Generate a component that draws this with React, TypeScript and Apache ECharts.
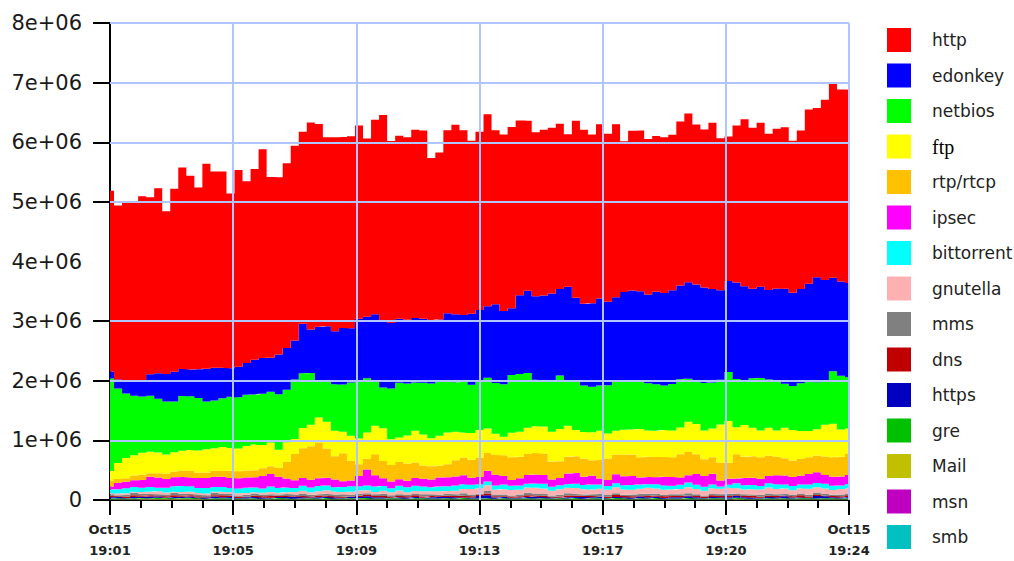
import React, { useEffect, useRef } from "react";
import * as echarts from "echarts";

// values in units of 1e6 (bits/s), one sample every ~15 s from 19:01 to 19:24
const M = 1e6;

const http = [
  3.03, 2.92, 3.0, 3.0, 3.08, 2.97, 3.1, 2.73, 3.07, 3.38,
  3.25, 3.05, 3.44, 3.29, 3.29, 2.93, 3.3, 3.05, 3.2, 3.5,
  3.03, 2.97, 3.1, 3.27, 3.22, 3.47, 3.4, 3.17, 3.25, 3.2,
  3.22, 3.24, 2.99, 3.26, 3.47, 3.05, 3.07, 3.06, 3.16, 3.16,
  2.72, 2.8, 3.07, 3.18, 3.1, 2.9, 2.99, 3.22, 2.92, 2.96,
  3.04, 2.93, 2.85, 2.75, 2.78, 2.78, 2.77, 2.56, 2.97, 2.92,
  2.83, 2.92, 2.82, 2.9, 2.53, 2.68, 2.7, 2.61, 2.61, 2.61,
  2.61, 2.75, 2.83, 2.68, 2.65, 2.79, 2.55, 2.42, 2.63, 2.8,
  2.7, 2.75, 2.62, 2.68, 2.71, 2.55, 2.66, 2.92, 2.84, 3.02,
  3.25, 3.22, 3.24,
];

const edonkey = [
  0.12, 0.15, 0.2, 0.26, 0.28, 0.36, 0.43, 0.46, 0.5, 0.45,
  0.45, 0.48, 0.55, 0.55, 0.51, 0.48, 0.51, 0.53, 0.58, 0.6,
  0.57, 0.67, 0.7, 0.65, 0.83, 0.73, 0.9, 0.91, 0.89, 0.95,
  0.91, 1.04, 1.03, 1.12, 1.1, 1.1, 1.07, 1.07, 1.08, 1.07,
  1.06, 1.04, 1.12, 1.14, 1.12, 1.19, 1.2, 1.2, 1.32, 1.23,
  1.12, 1.32, 1.38, 1.4, 1.42, 1.45, 1.45, 1.57, 1.38, 1.37,
  1.4, 1.46, 1.4, 1.41, 1.5, 1.52, 1.5, 1.49, 1.55, 1.55,
  1.57, 1.57, 1.62, 1.62, 1.6, 1.57, 1.5, 1.53, 1.62, 1.6,
  1.5, 1.53, 1.5, 1.54, 1.59, 1.56, 1.58, 1.63, 1.76, 1.68,
  1.57, 1.58, 1.58,
];

const netbios = [
  1.55, 1.25, 1.08, 1.0, 0.94, 0.94, 0.9, 0.89, 0.85, 0.92,
  0.9, 0.88, 0.8, 0.8, 0.82, 0.86, 0.86, 0.86, 0.84, 0.86,
  0.85, 0.93, 0.88, 1.0, 0.92, 0.87, 0.62, 0.69, 0.78, 0.79,
  0.89, 0.97, 0.91, 0.75, 0.68, 0.85, 0.92, 0.87, 0.81, 0.87,
  0.92, 0.91, 0.88, 0.83, 0.85, 0.81, 0.81, 0.85, 0.85, 0.88,
  0.97, 0.97, 0.92, 0.78, 0.78, 0.87, 0.9, 0.76, 0.84, 0.78,
  0.76, 0.76, 0.81, 0.83, 0.81, 0.81, 0.81, 0.79, 0.78, 0.75,
  0.78, 0.81, 0.72, 0.72, 0.8, 0.77, 0.75, 0.82, 0.81, 0.73,
  0.83, 0.88, 0.81, 0.84, 0.74, 0.74, 0.8, 0.84, 0.79, 0.75,
  0.88, 0.9, 0.86,
];

const ftp = [
  0.17, 0.27, 0.34, 0.34, 0.37, 0.36, 0.35, 0.32, 0.32, 0.33,
  0.35, 0.37, 0.39, 0.38, 0.4, 0.38, 0.38, 0.41, 0.43, 0.39,
  0.4, 0.3, 0.33, 0.25, 0.34, 0.36, 0.42, 0.45, 0.43, 0.36,
  0.42, 0.43, 0.44, 0.48, 0.55, 0.43, 0.41, 0.47, 0.53, 0.52,
  0.47, 0.5, 0.53, 0.48, 0.42, 0.45, 0.47, 0.41, 0.36, 0.31,
  0.41, 0.42, 0.44, 0.45, 0.45, 0.5, 0.54, 0.52, 0.44, 0.45,
  0.47, 0.49, 0.42, 0.4, 0.42, 0.42, 0.47, 0.44, 0.44, 0.45,
  0.45, 0.45, 0.51, 0.51, 0.48, 0.48, 0.64, 0.7, 0.45, 0.53,
  0.48, 0.45, 0.47, 0.44, 0.51, 0.51, 0.47, 0.44, 0.44, 0.53,
  0.56, 0.46, 0.42,
];

const rtpRtcp = [
  0.09, 0.06, 0.06, 0.08, 0.09, 0.06, 0.07, 0.09, 0.1, 0.11,
  0.11, 0.09, 0.09, 0.1, 0.1, 0.12, 0.12, 0.12, 0.12, 0.13,
  0.13, 0.15, 0.28, 0.44, 0.5, 0.56, 0.6, 0.49, 0.39, 0.47,
  0.33, 0.2, 0.18, 0.35, 0.29, 0.28, 0.29, 0.29, 0.26, 0.22,
  0.22, 0.2, 0.22, 0.27, 0.3, 0.3, 0.32, 0.3, 0.33, 0.35,
  0.38, 0.36, 0.35, 0.36, 0.36, 0.3, 0.28, 0.28, 0.28, 0.3,
  0.26, 0.31, 0.36, 0.33, 0.36, 0.36, 0.34, 0.34, 0.34, 0.33,
  0.33, 0.39, 0.39, 0.33, 0.28, 0.28, 0.3, 0.27, 0.41, 0.36,
  0.36, 0.36, 0.34, 0.31, 0.29, 0.28, 0.28, 0.28, 0.28, 0.31,
  0.33, 0.33, 0.36,
];

const ipsec = [
  0.05, 0.11, 0.11, 0.11, 0.13, 0.17, 0.17, 0.15, 0.15, 0.15,
  0.15, 0.17, 0.17, 0.17, 0.17, 0.17, 0.17, 0.17, 0.17, 0.21,
  0.21, 0.19, 0.15, 0.13, 0.13, 0.13, 0.13, 0.13, 0.13, 0.1,
  0.1, 0.17, 0.27, 0.19, 0.13, 0.11, 0.11, 0.11, 0.13, 0.13,
  0.13, 0.15, 0.15, 0.15, 0.15, 0.12, 0.12, 0.18, 0.18, 0.14,
  0.1, 0.12, 0.15, 0.15, 0.15, 0.12, 0.12, 0.18, 0.18, 0.14,
  0.15, 0.1, 0.1, 0.15, 0.15, 0.15, 0.12, 0.12, 0.12, 0.15,
  0.15, 0.12, 0.12, 0.18, 0.18, 0.18, 0.1, 0.1, 0.08, 0.12,
  0.12, 0.12, 0.12, 0.15, 0.15, 0.15, 0.15, 0.18, 0.18, 0.15,
  0.15, 0.15, 0.15,
];

const bittorrent = [
  0.06, 0.07, 0.08, 0.08, 0.07, 0.08, 0.06, 0.08, 0.09, 0.1,
  0.09, 0.08, 0.09, 0.08, 0.08, 0.07, 0.08, 0.09, 0.08, 0.07,
  0.09, 0.08, 0.08, 0.07, 0.08, 0.08, 0.09, 0.08, 0.07, 0.08,
  0.09, 0.07, 0.08, 0.09, 0.08, 0.07, 0.08, 0.08, 0.09, 0.08,
  0.07, 0.08, 0.08, 0.09, 0.08, 0.07, 0.07, 0.06, 0.07, 0.08,
  0.07, 0.07, 0.06, 0.07, 0.08, 0.07, 0.07, 0.06, 0.07, 0.07,
  0.08, 0.07, 0.06, 0.07, 0.07, 0.08, 0.07, 0.06, 0.07, 0.07,
  0.06, 0.07, 0.08, 0.07, 0.07, 0.06, 0.04, 0.05, 0.08, 0.07,
  0.07, 0.06, 0.07, 0.08, 0.07, 0.07, 0.06, 0.07, 0.07, 0.08,
  0.07, 0.06, 0.07,
];

const gnutella = [
  0.02, 0.03, 0.03, 0.02, 0.03, 0.04, 0.05, 0.03, 0.02, 0.03,
  0.04, 0.03, 0.03, 0.02, 0.03, 0.03, 0.04, 0.03, 0.02, 0.03,
  0.04, 0.03, 0.03, 0.04, 0.05, 0.04, 0.05, 0.06, 0.05, 0.04,
  0.05, 0.06, 0.05, 0.04, 0.05, 0.05, 0.06, 0.05, 0.04, 0.05,
  0.05, 0.06, 0.05, 0.06, 0.07, 0.09, 0.09, 0.1, 0.08, 0.09,
  0.09, 0.08, 0.09, 0.1, 0.09, 0.08, 0.09, 0.09, 0.1, 0.09,
  0.08, 0.09, 0.09, 0.1, 0.09, 0.08, 0.09, 0.1, 0.09, 0.09,
  0.08, 0.09, 0.1, 0.09, 0.08, 0.09, 0.09, 0.1, 0.09, 0.08,
  0.09, 0.09, 0.1, 0.09, 0.09, 0.08, 0.09, 0.1, 0.09, 0.09,
  0.08, 0.09, 0.09,
];

const mms = [
  0.03, 0.02, 0.03, 0.04, 0.03, 0.02, 0.03, 0.03, 0.04, 0.03,
  0.02, 0.03, 0.03, 0.04, 0.03, 0.03, 0.02, 0.03, 0.04, 0.03,
  0.03, 0.02, 0.03, 0.03, 0.04, 0.03, 0.02, 0.03, 0.03, 0.04,
  0.03, 0.03, 0.02, 0.03, 0.04, 0.03, 0.03, 0.02, 0.03, 0.04,
  0.03, 0.02, 0.03, 0.03, 0.04, 0.03, 0.02, 0.04, 0.03, 0.03,
  0.02, 0.03, 0.04, 0.03, 0.03, 0.02, 0.03, 0.04, 0.03, 0.02,
  0.03, 0.04, 0.03, 0.03, 0.02, 0.03, 0.03, 0.04, 0.03, 0.02,
  0.03, 0.03, 0.04, 0.03, 0.02, 0.03, 0.03, 0.04, 0.03, 0.03,
  0.02, 0.03, 0.04, 0.03, 0.03, 0.02, 0.03, 0.03, 0.04, 0.03,
  0.02, 0.03, 0.03,
];

const dns = [
  0.02, 0.01, 0.02, 0.03, 0.02, 0.02, 0.01, 0.02, 0.03, 0.02,
  0.02, 0.02, 0.01, 0.02, 0.03, 0.02, 0.02, 0.01, 0.02, 0.02,
  0.03, 0.02, 0.02, 0.01, 0.02, 0.02, 0.03, 0.02, 0.02, 0.02,
  0.01, 0.02, 0.03, 0.02, 0.02, 0.01, 0.02, 0.02, 0.03, 0.02,
  0.02, 0.01, 0.02, 0.02, 0.03, 0.02, 0.02, 0.03, 0.02, 0.01,
  0.02, 0.02, 0.03, 0.02, 0.02, 0.01, 0.02, 0.03, 0.02, 0.02,
  0.02, 0.01, 0.02, 0.03, 0.02, 0.02, 0.01, 0.02, 0.02, 0.03,
  0.02, 0.02, 0.01, 0.02, 0.02, 0.03, 0.02, 0.02, 0.01, 0.02,
  0.03, 0.02, 0.02, 0.02, 0.01, 0.02, 0.03, 0.02, 0.02, 0.01,
  0.02, 0.02, 0.03,
];

const https = [
  0.02, 0.02, 0.01, 0.02, 0.02, 0.03, 0.02, 0.01, 0.02, 0.02,
  0.02, 0.01, 0.02, 0.03, 0.02, 0.02, 0.01, 0.02, 0.02, 0.02,
  0.01, 0.02, 0.02, 0.03, 0.02, 0.01, 0.02, 0.02, 0.02, 0.01,
  0.02, 0.02, 0.03, 0.02, 0.02, 0.01, 0.02, 0.02, 0.02, 0.01,
  0.02, 0.03, 0.02, 0.02, 0.01, 0.02, 0.04, 0.05, 0.02, 0.02,
  0.01, 0.02, 0.02, 0.03, 0.02, 0.02, 0.01, 0.02, 0.02, 0.03,
  0.02, 0.02, 0.01, 0.02, 0.02, 0.02, 0.03, 0.02, 0.02, 0.01,
  0.02, 0.02, 0.03, 0.02, 0.01, 0.02, 0.02, 0.02, 0.03, 0.02,
  0.02, 0.01, 0.02, 0.02, 0.03, 0.02, 0.02, 0.01, 0.04, 0.03,
  0.02, 0.02, 0.02,
];

const gre = [
  0.015, 0.02, 0.012, 0.018, 0.015, 0.01, 0.02, 0.015, 0.012, 0.016,
  0.02, 0.014, 0.01, 0.018, 0.015, 0.02, 0.012, 0.015, 0.018, 0.01,
  0.015, 0.02, 0.016, 0.012, 0.015, 0.018, 0.014, 0.02, 0.01, 0.015,
  0.017, 0.012, 0.02, 0.015, 0.013, 0.018, 0.015, 0.01, 0.02, 0.016,
  0.012, 0.015, 0.018, 0.014, 0.02, 0.012, 0.015, 0.017, 0.01, 0.02,
  0.015, 0.013, 0.018, 0.015, 0.02, 0.012, 0.016, 0.014, 0.02, 0.01,
  0.015, 0.018, 0.013, 0.02, 0.015, 0.012, 0.017, 0.015, 0.02, 0.01,
  0.016, 0.014, 0.02, 0.015, 0.012, 0.018, 0.015, 0.013, 0.02, 0.016,
  0.01, 0.015, 0.018, 0.014, 0.02, 0.012, 0.015, 0.017, 0.013, 0.02,
  0.015, 0.012, 0.018,
];

const mail = [
  0.005, 0.004, 0.006, 0.005, 0.012, 0.012, 0.01, 0.012, 0.011, 0.012,
  0.012, 0.01, 0.004, 0.005, 0.006, 0.004, 0.005, 0.004, 0.006, 0.005,
  0.004, 0.005, 0.006, 0.004, 0.005, 0.005, 0.004, 0.006, 0.005, 0.004,
  0.005, 0.012, 0.006, 0.004, 0.005, 0.004, 0.006, 0.005, 0.004, 0.005,
  0.006, 0.004, 0.005, 0.004, 0.006, 0.005, 0.004, 0.005, 0.006, 0.004,
  0.005, 0.004, 0.006, 0.005, 0.004, 0.005, 0.006, 0.004, 0.005, 0.004,
  0.006, 0.005, 0.004, 0.005, 0.006, 0.004, 0.005, 0.004, 0.006, 0.005,
  0.004, 0.005, 0.006, 0.004, 0.005, 0.004, 0.006, 0.005, 0.012, 0.004,
  0.005, 0.004, 0.006, 0.005, 0.004, 0.005, 0.006, 0.004, 0.005, 0.004,
  0.006, 0.005, 0.004,
];

const msn = [
  0.003, 0.002, 0.003, 0.004, 0.003, 0.002, 0.003, 0.003, 0.004, 0.002,
  0.003, 0.003, 0.002, 0.004, 0.003, 0.003, 0.002, 0.003, 0.004, 0.003,
  0.002, 0.003, 0.003, 0.004, 0.002, 0.003, 0.003, 0.002, 0.004, 0.003,
  0.003, 0.002, 0.003, 0.004, 0.003, 0.002, 0.003, 0.003, 0.004, 0.002,
  0.003, 0.003, 0.002, 0.004, 0.003, 0.003, 0.002, 0.003, 0.004, 0.003,
  0.002, 0.003, 0.003, 0.004, 0.002, 0.003, 0.003, 0.002, 0.004, 0.003,
  0.003, 0.002, 0.003, 0.004, 0.003, 0.002, 0.003, 0.003, 0.004, 0.002,
  0.003, 0.003, 0.002, 0.004, 0.003, 0.003, 0.002, 0.003, 0.004, 0.003,
  0.002, 0.003, 0.003, 0.004, 0.002, 0.003, 0.003, 0.002, 0.004, 0.003,
  0.003, 0.002, 0.003,
];

const smb = [
  0.004, 0.005, 0.004, 0.003, 0.004, 0.005, 0.004, 0.004, 0.003, 0.005,
  0.004, 0.004, 0.005, 0.003, 0.004, 0.004, 0.005, 0.004, 0.003, 0.004,
  0.005, 0.004, 0.004, 0.003, 0.005, 0.004, 0.004, 0.005, 0.003, 0.004,
  0.004, 0.005, 0.004, 0.003, 0.004, 0.005, 0.004, 0.004, 0.003, 0.005,
  0.004, 0.004, 0.005, 0.003, 0.004, 0.004, 0.005, 0.004, 0.003, 0.004,
  0.005, 0.004, 0.004, 0.003, 0.005, 0.004, 0.004, 0.005, 0.003, 0.004,
  0.004, 0.005, 0.004, 0.003, 0.004, 0.005, 0.004, 0.004, 0.003, 0.005,
  0.004, 0.004, 0.005, 0.003, 0.004, 0.004, 0.005, 0.004, 0.003, 0.004,
  0.005, 0.004, 0.004, 0.003, 0.005, 0.004, 0.004, 0.005, 0.003, 0.004,
  0.004, 0.005, 0.004,
];

// legend order (top of stack first)
const legendNames = [
  "http", "edonkey", "netbios", "ftp", "rtp/rtcp", "ipsec", "bittorrent",
  "gnutella", "mms", "dns", "https", "gre", "Mail", "msn", "smb",
];
const seriesColors = [
  "#ff0000", "#0000ff", "#00ff00", "#ffff00", "#ffc000", "#ff00ff", "#00ffff",
  "#ffb0b0", "#808080", "#c00000", "#0000c0", "#00c000", "#c0c000", "#c000c0", "#00c0c0",
];
const seriesValues = [
  http, edonkey, netbios, ftp, rtpRtcp, ipsec, bittorrent,
  gnutella, mms, dns, https, gre, mail, msn, smb,
];

const xTickLabels = [
  "Oct15\n19:01", "Oct15\n19:05", "Oct15\n19:09", "Oct15\n19:13",
  "Oct15\n19:17", "Oct15\n19:20", "Oct15\n19:24",
];
const yTickValues = [0, 1, 2, 3, 5, 6, 7, 8];
const yGridValues = [1, 2, 3, 5, 6, 7, 8];
const xGridValues = [1, 2, 3, 4, 5, 6];

export default function App() {
  const ref = useRef<HTMLDivElement>(null);

  useEffect(() => {
    if (!ref.current) return;
    const chart = echarts.init(ref.current, null, { renderer: "svg" });
    const samples = http.map((_, i) => String(i));
    const black = { color: "#000", width: 2 };

    const stackSeries = legendNames
      .map((name, k) => ({
        name,
        type: "line",
        stack: "total",
        xAxisIndex: 0,
        yAxisIndex: 0,
        step: "middle",
        symbol: "none",
        showSymbol: false,
        lineStyle: { width: 0 },
        itemStyle: { color: seriesColors[k] },
        areaStyle: { color: seriesColors[k], opacity: 1 },
        emphasis: { disabled: true },
        data: seriesValues[k].map((v) => v * M),
      }))
      .reverse();

    const option: any = {
      animation: false,
      backgroundColor: "#ffffff",
      grid: { left: 110, right: 165, top: 23, bottom: 58 },
      legend: {
        orient: "vertical",
        left: 887,
        top: 28,
        padding: 0,
        itemWidth: 24,
        itemHeight: 24,
        itemGap: 11.5,
        icon: "rect",
        selectedMode: false,
        textStyle: {
          fontFamily: "DejaVu Sans",
          fontSize: 17,
          color: "#222",
          padding: [0, 0, 0, 16],
        },
        data: legendNames.map((n) =>
          n === "ftp"
            ? {
                name: n,
                textStyle: {
                  fontFamily: "Liberation Serif",
                  fontSize: 20,
                  color: "#000",
                  padding: [0, 0, 0, 16],
                },
              }
            : { name: n }
        ),
      },
      xAxis: [
        {
          type: "category",
          data: samples,
          boundaryGap: false,
          show: false,
        },
        {
          type: "value",
          position: "bottom",
          min: 0,
          max: 6,
          interval: 1,
          axisLine: { show: true, lineStyle: black },
          axisTick: { show: true, length: 15, lineStyle: black },
          minorTick: { show: true, splitNumber: 4, length: 8, lineStyle: black },
          splitLine: { show: false },
          minorSplitLine: { show: false },
          axisLabel: {
            formatter: (v: number) => xTickLabels[Math.round(v)] ?? "",
            fontFamily: "DejaVu Sans",
            fontSize: 13,
            fontWeight: "bold",
            lineHeight: 21,
            color: "#222",
            margin: 19,
          },
        },
      ],
      yAxis: {
        type: "value",
        min: 0,
        max: 8 * M,
        interval: M,
        axisLine: { show: true, lineStyle: black },
        axisTick: {
          show: true,
          length: 17,
          lineStyle: black,
          customValues: yTickValues.map((v) => v * M),
        },
        splitLine: { show: false },
        axisLabel: {
          formatter: (v: number) => (v === 0 ? "0" : `${Math.round(v / M)}e+06`),
          fontFamily: "DejaVu Sans",
          fontSize: 21,
          color: "#1a1a1a",
          margin: 28,
        },
      },
      series: [
        ...stackSeries,
        {
          name: "grid",
          type: "line",
          xAxisIndex: 1,
          yAxisIndex: 0,
          data: [[0, 0]],
          symbol: "none",
          lineStyle: { opacity: 0 },
          silent: true,
          z: 10,
          markLine: {
            silent: true,
            symbol: ["none", "none"],
            label: { show: false },
            lineStyle: { color: "#b0c4ff", width: 2, type: "solid" },
            emphasis: { disabled: true },
            data: [
              ...yGridValues.map((v) => ({ yAxis: v * M })),
              ...xGridValues.map((v) => ({ xAxis: v })),
            ],
          },
        },
      ],
    };

    chart.setOption(option);
    return () => chart.dispose();
  }, []);

  return (
    <div
      ref={ref}
      style={{ position: "fixed", left: 0, top: 0, width: 1014, height: 561, background: "#fff" }}
    />
  );
}
